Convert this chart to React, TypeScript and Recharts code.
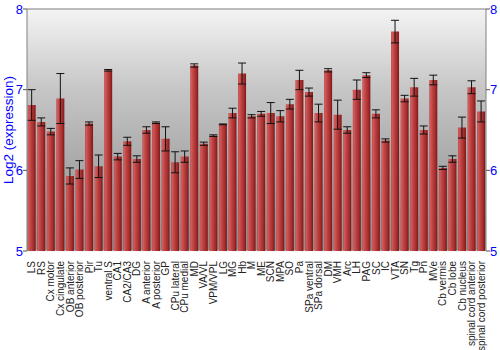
import React from 'react';
import { BarChart, Bar, XAxis, YAxis, CartesianGrid, ErrorBar, ReferenceLine, Label } from 'recharts';

const regions = [
  'LS', 'RS', 'Cx motor', 'Cx cingulate', 'OB anterior', 'OB posterior', 'Pir', 'Tu',
  'ventral S', 'CA1', 'CA2/CA3', 'DG', 'A anterior', 'A posterior', 'GP', 'CPu lateral',
  'CPu medial', 'MD', 'VA/VL', 'VPM/VPL', 'LG', 'MG', 'Hb', 'M', 'ME', 'SCN', 'MPA', 'SO',
  'Pa', 'SPa ventral', 'SPa dorsal', 'DM', 'VMH', 'Arc', 'LH', 'PAG', 'SC', 'IC', 'VTA',
  'SN', 'Tg', 'Pn', 'MVe', 'Cb vermis', 'Cb lobe', 'Cb nucleus', 'spinal cord anterior',
  'spinal cord posterior',
];

const expression = [
  6.81, 6.60, 6.48, 6.89, 5.93, 6.01, 6.58, 6.05,
  7.24, 6.17, 6.36, 6.14, 6.50, 6.59, 6.39, 6.10,
  6.17, 7.30, 6.33, 6.43, 6.57, 6.71, 7.20, 6.67, 6.70, 6.71, 6.67, 6.82,
  7.12, 6.97, 6.71, 7.24, 6.69, 6.50, 7.00, 7.18, 6.70, 6.37, 7.72,
  6.89, 7.03, 6.50, 7.12, 6.03, 6.14, 6.53, 7.03,
  6.73,
];

const stdErr = [
  0.19, 0.05, 0.04, 0.31, 0.10, 0.11, 0.02, 0.14,
  0.01, 0.04, 0.05, 0.04, 0.04, 0.01, 0.15, 0.13,
  0.07, 0.02, 0.02, 0.01, 0.005, 0.06, 0.13, 0.02, 0.03, 0.13, 0.07, 0.06,
  0.12, 0.05, 0.11, 0.02, 0.18, 0.04, 0.12, 0.03, 0.05, 0.02, 0.14,
  0.04, 0.11, 0.05, 0.06, 0.02, 0.04, 0.13, 0.08,
  0.13,
];

const yTicks = [5, 6, 7, 8];

const data = regions.map((name, i) => ({ name, value: expression[i], err: stdErr[i] }));

const FONT = '"Liberation Sans", Arial, sans-serif';

// rotated category labels, reading bottom to top
const RegionTick = (props: any) => {
  const { x, y, payload } = props;
  const ty = y + 2;
  return (
    <text
      x={x}
      y={ty}
      dy={3.5}
      transform={`rotate(-90 ${x} ${ty})`}
      textAnchor="end"
      fontSize={10}
      fontFamily={FONT}
      fill="#222"
    >
      {payload.value}
    </text>
  );
};

const App: React.FC = () => {
  return (
    <div style={{ position: 'absolute', left: 0, top: 0, width: 500, height: 350, background: '#fff' }}>
      <BarChart
        width={500}
        height={350}
        data={data}
        margin={{ top: 9, right: 0, bottom: 0, left: 0 }}
        barCategoryGap="7%"
        style={{ fontFamily: FONT }}
      >
        <defs>
          <linearGradient id="plotBg" x1="0" y1="0" x2="0" y2="1">
            <stop offset="0%" stopColor="#f4f4f4" />
            <stop offset="33%" stopColor="#c6c6c6" />
            <stop offset="67%" stopColor="#a6a6a6" />
            <stop offset="100%" stopColor="#8e8e8e" />
          </linearGradient>
          <linearGradient id="barFill" x1="0" y1="0" x2="1" y2="0">
            <stop offset="0%" stopColor="#b94545" />
            <stop offset="12%" stopColor="#d25c5c" />
            <stop offset="35%" stopColor="#c24646" />
            <stop offset="75%" stopColor="#a32c2c" />
            <stop offset="100%" stopColor="#7c1616" />
          </linearGradient>
        </defs>
        <CartesianGrid vertical={false} stroke="#f2f2f2" fill="url(#plotBg)" fillOpacity={1} />
        <XAxis
          dataKey="name"
          interval={0}
          height={99}
          axisLine={false}
          tickLine={false}
          tick={<RegionTick />}
        />
        <YAxis
          yAxisId="left"
          orientation="left"
          width={27}
          domain={[5, 8]}
          ticks={yTicks}
          allowDataOverflow
          axisLine={{ stroke: '#808080' }}
          tickLine={{ stroke: '#555' }}
          tickSize={4}
          tickMargin={0}
          tick={{ fill: '#0000ff', fontSize: 13, fontFamily: FONT }}
        >
          <Label
            value="Log2 (expression)"
            angle={-90}
            position="insideLeft"
            offset={8}
            fill="#0000ff"
            fontSize={13.5}
            fontFamily={FONT}
            style={{ textAnchor: 'middle' }}
          />
        </YAxis>
        <YAxis
          yAxisId="right"
          orientation="right"
          width={14}
          domain={[5, 8]}
          ticks={yTicks}
          allowDataOverflow
          axisLine={{ stroke: '#808080' }}
          tickLine={{ stroke: '#555' }}
          tickSize={4}
          tickMargin={0}
          tick={{ fill: '#0000ff', fontSize: 13, fontFamily: FONT }}
        />
        <Bar yAxisId="left" dataKey="value" fill="url(#barFill)" isAnimationActive={false}>
          <ErrorBar dataKey="err" width={4} stroke="#111" strokeWidth={1} isAnimationActive={false} />
        </Bar>
        <ReferenceLine yAxisId="left" y={8} stroke="#808080" strokeWidth={1} />
      </BarChart>
    </div>
  );
};

export default App;
